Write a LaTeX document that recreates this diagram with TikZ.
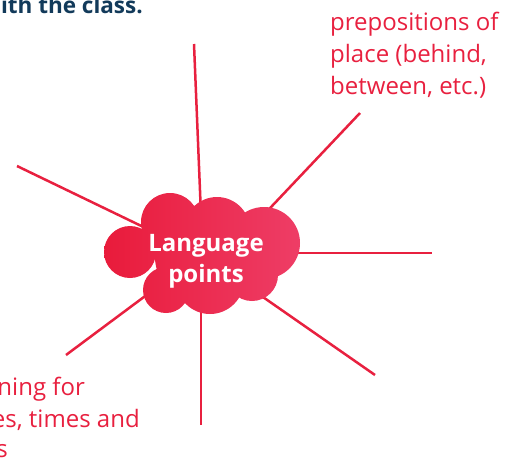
\documentclass[tikz,border=0pt]{standalone}
\usepackage{fontspec}
\setmainfont{Open Sans}
\definecolor{lred}{HTML}{E8203F}
\definecolor{cleft}{HTML}{E91B3B}
\definecolor{cright}{HTML}{EE3D66}
\definecolor{navy}{HTML}{123A5A}
\pgfdeclarelayer{linelayer}
\pgfdeclarelayer{cloudlayer}
\pgfsetlayers{linelayer,cloudlayer,main}
\begin{document}
\begin{tikzpicture}[x=1pt,y=-1pt,
  spoke/.style={draw=lred, line width=2.5pt},
  redtext/.style={text=lred, font=\fontsize{24}{32}\selectfont, inner sep=0pt, align=left},
  centertext/.style={text=white, font=\fontsize{24}{31}\selectfont\bfseries, inner sep=0pt, align=center},
  toptext/.style={text=navy, font=\fontsize{22.5}{30}\selectfont\bfseries, inner sep=0pt}]
\useasboundingbox (0,0) rectangle (522,459);
\clip (0,0) rectangle (522,459);

% centre
\node[centertext, anchor=north] (cloud) at (206,234) {Language\\points};
\begin{pgfonlayer}{cloudlayer}
  \shade[left color=cleft, right color=cright]
    (130,252) circle[radius=26]
    (170,222) circle[radius=29]
    (217,230) circle[radius=33]
    (264,243) circle[radius=36]
    (252,275) circle[radius=26]
    (210,280) circle[radius=34]
    (166,290) circle[radius=23]
    (200,257) circle[radius=45];
\end{pgfonlayer}

% spoke ends
\coordinate (tin) at (201,215);  \coordinate (tout) at (194,44);
\coordinate (trin) at (255,224); \coordinate (trout) at (360,113);
\coordinate (rin) at (270,253);  \coordinate (rout) at (432,253);
\coordinate (brin) at (250,288); \coordinate (brout) at (375,375);
\coordinate (bin) at (201,290);  \coordinate (bout) at (201,425);
\coordinate (blin) at (160,285); \coordinate (blout) at (66,355);
\coordinate (lin) at (160,235);  \coordinate (lout) at (17,166);
\begin{pgfonlayer}{linelayer}
  \draw[spoke] (tin) -- (tout);
  \draw[spoke] (trin) -- (trout);
  \draw[spoke] (rin) -- (rout);
  \draw[spoke] (brin) -- (brout);
  \draw[spoke] (bin) -- (bout);
  \draw[spoke] (blin) -- (blout);
  \draw[spoke] (lin) -- (lout);
\end{pgfonlayer}

% texts
\node[toptext, anchor=base east] (head) at (143,13) {ith the class.};
\node[redtext, anchor=north west] (prep) at (330,12) {prepositions of\\place (behind,\\between, etc.)};
\node[redtext, anchor=base east] (bl1) at (85,395) {ning for};
\node[redtext, anchor=base east] (bl2) at (140,427) {es, times and};
\node[redtext, anchor=base east] (bl3) at (8,457) {s};
\end{tikzpicture}
\end{document}
